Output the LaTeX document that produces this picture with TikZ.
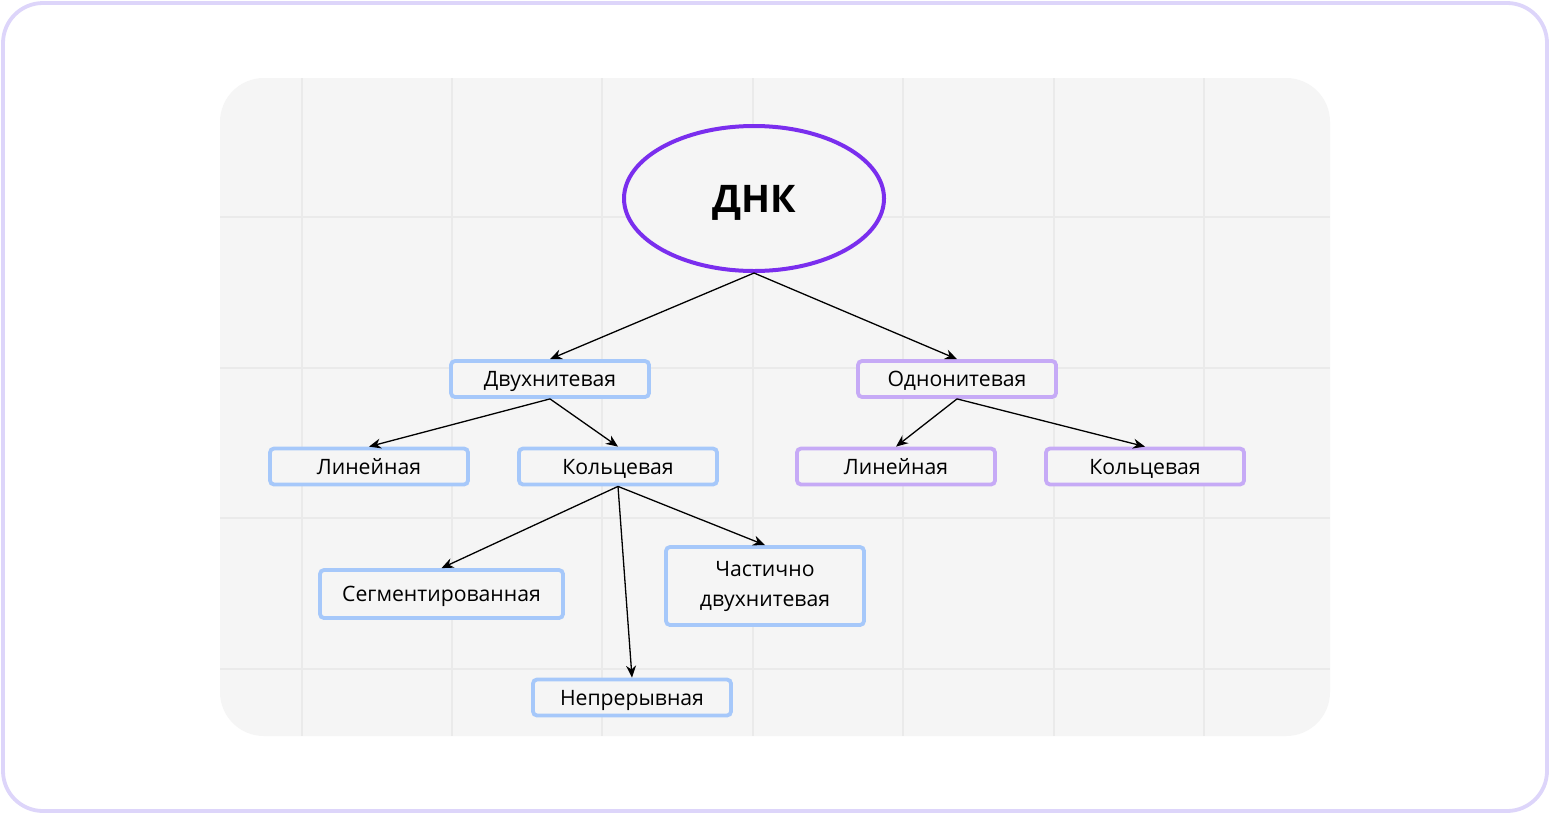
\documentclass[tikz,border=0pt]{standalone}
\usepackage{fontspec}
\setmainfont{Open Sans}
\usetikzlibrary{shapes.geometric,arrows.meta}
\definecolor{frame}{HTML}{DDD5FA}
\definecolor{panel}{HTML}{F5F5F5}
\definecolor{gridc}{HTML}{EAEAEA}
\definecolor{violet}{HTML}{7A2EEE}
\definecolor{bluebox}{HTML}{A6C8FA}
\definecolor{purpbox}{HTML}{C6AAF6}
\tikzset{
  bbox/.style={draw=bluebox, line width=1.9pt, rounded corners=2pt, fill=panel,
    minimum width=99pt, minimum height=18pt, inner sep=0pt, align=center,
    font=\fontsize{10.6}{15}\selectfont},
  one/.style={text height=9.2pt, text depth=1.4pt},
  pbox/.style={bbox, draw=purpbox},
  conn/.style={-{Stealth[length=6pt,width=5pt]}, line width=0.65pt, black},
}
\begin{document}
\begin{tikzpicture}[x=0.5pt,y=-0.5pt]
\useasboundingbox (0,0) rectangle (1550,814);
\draw[frame, line width=1.9pt, rounded corners=20pt, fill=white] (3,3) rectangle (1547,811);
\fill[panel, rounded corners=22pt] (220,78) rectangle (1330,736);
\begin{scope}
\clip[rounded corners=22pt] (220,78) rectangle (1330,736);
\foreach \x in {302,452,602,753,903,1054,1204} \draw[gridc, line width=0.8pt] (\x,78) -- (\x,736);
\foreach \y in {217,368,518,669} \draw[gridc, line width=0.8pt] (220,\y) -- (1330,\y);
\end{scope}
\node[ellipse, draw=violet, line width=2pt, fill=panel, minimum width=130pt, minimum height=72.5pt, inner sep=0pt,
  font=\fontsize{19}{22}\selectfont\bfseries, text height=14pt, text depth=0pt] (dnk) at (754,198.5) {ДНК};
\node[bbox, one] (dvu) at (550,379) {Двухнитевая};
\node[pbox, one] (odn) at (957,379) {Однонитевая};
\node[bbox, one] (lin1) at (369,466.5) {Линейная};
\node[bbox, one] (kol1) at (618,466.5) {Кольцевая};
\node[pbox, one] (lin2) at (896,466.5) {Линейная};
\node[pbox, one] (kol2) at (1145,466.5) {Кольцевая};
\node[bbox, one, minimum width=121.5pt, minimum height=24pt] (seg) at (441.5,594) {Сегментированная};
\node[bbox, minimum height=39pt] (cha) at (765,586) {Частично\\двухнитевая};
\node[bbox, one] (nep) at (632,697.5) {Непрерывная};
\draw[conn] (dnk.south) -- (dvu.north);
\draw[conn] (dnk.south) -- (odn.north);
\draw[conn] (dvu.south) -- (lin1.north);
\draw[conn] (dvu.south) -- (kol1.north);
\draw[conn] (odn.south) -- (lin2.north);
\draw[conn] (odn.south) -- (kol2.north);
\draw[conn] (kol1.south) -- (seg.north);
\draw[conn] (kol1.south) -- (nep.north);
\draw[conn] (kol1.south) -- (cha.north);
\end{tikzpicture}
\end{document}
